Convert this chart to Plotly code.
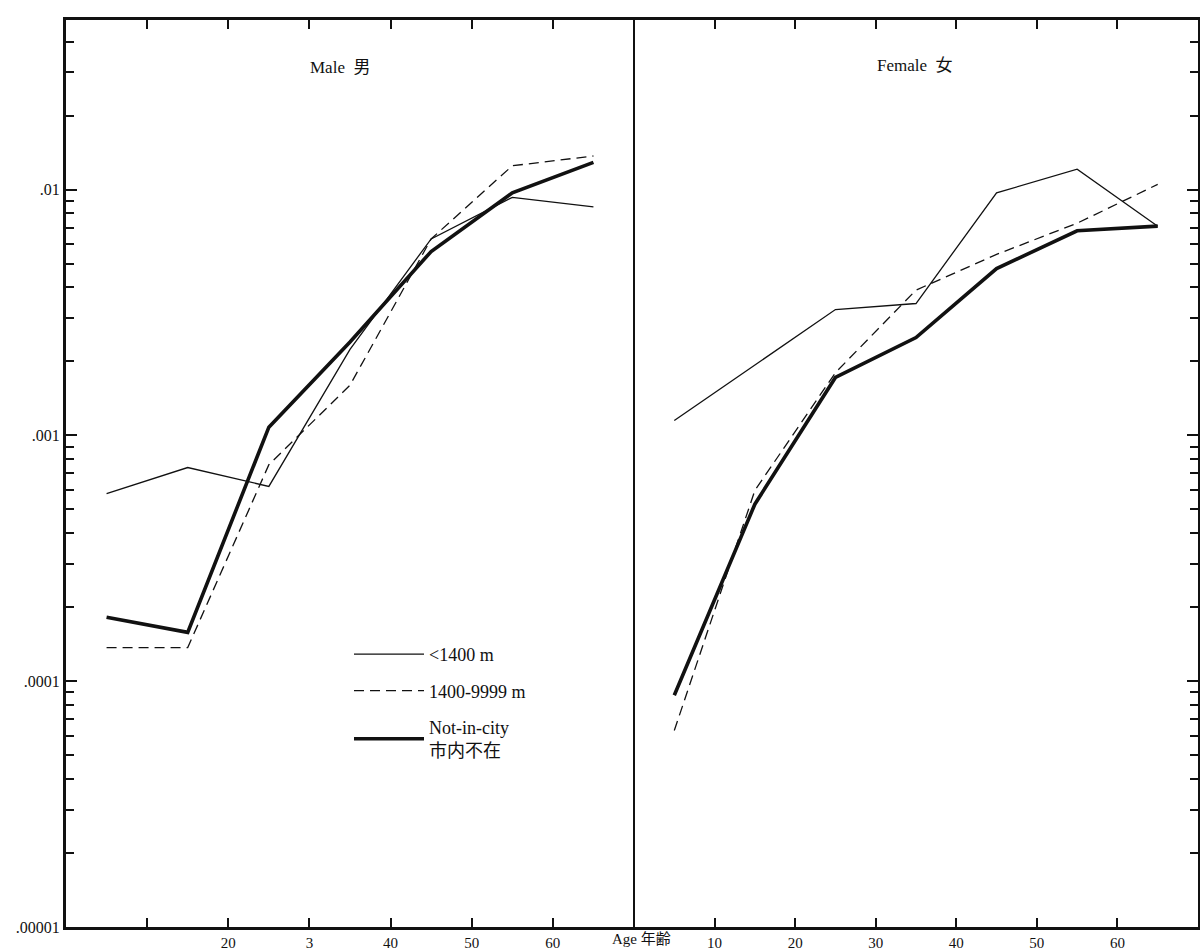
import plotly.graph_objects as go

# ---- data ----
ages = [5, 15, 25, 35, 45, 55, 65]

male_lt1400 = [0.00058, 0.00074, 0.00062, 0.00224, 0.0063, 0.0093, 0.0085]
male_1400_9999 = [0.000137, 0.000137, 0.00076, 0.0016, 0.0063, 0.0125, 0.0137]
male_notincity = [0.000182, 0.000158, 0.00108, 0.0024, 0.0056, 0.0097, 0.0129]

female_lt1400 = [0.00115, 0.00194, 0.00325, 0.00344, 0.0097, 0.0121, 0.0071]
female_1400_9999 = [0.000063, 0.000597, 0.0018, 0.0039, 0.00545, 0.0073, 0.0105]
female_notincity = [0.0000877, 0.000525, 0.00172, 0.0025, 0.00477, 0.0068, 0.0071]

series_names = ["<1400 m", "1400-9999 m", "Not-in-city<br>市内不在"]
panel_titles = ["Male  男", "Female  女"]
x_tickvals = [10, 20, 30, 40, 50, 60]
x_ticktext_male = ["", "20", "3", "40", "50", "60"]
x_ticktext_female = ["10", "20", "30", "40", "50", "60"]
y_major = [1e-5, 1e-4, 1e-3, 1e-2]
y_major_text = [".00001", ".0001", ".001", ".01"]
x_label = "Age 年齢"

# ---- styles ----
FONT = "Liberation Serif, Times New Roman, Noto Sans CJK JP, serif"
INK = "#111111"
styles = [
    dict(width=1.3, dash="solid"),
    dict(width=1.3, dash="10px,6px"),
    dict(width=3.6, dash="solid"),
]

fig = go.Figure()

male = [male_lt1400, male_1400_9999, male_notincity]
female = [female_lt1400, female_1400_9999, female_notincity]

for i, (name, vals) in enumerate(zip(series_names, male)):
    fig.add_trace(go.Scatter(
        x=ages, y=vals, mode="lines", name=name,
        line=dict(color=INK, **styles[i]),
        xaxis="x", yaxis="y", showlegend=True, legendgroup=f"g{i}",
    ))
for i, (name, vals) in enumerate(zip(series_names, female)):
    fig.add_trace(go.Scatter(
        x=ages, y=vals, mode="lines", name=name,
        line=dict(color=INK, **styles[i]),
        xaxis="x2", yaxis="y2", showlegend=False, legendgroup=f"g{i}",
    ))

minor_vals = [m * 10 ** e for e in range(-5, -1) for m in range(2, 10)]

x_left = 66 / 1200
x_mid = 634 / 1200
x_right = 1198 / 1200
y_bot = 1 - 927 / 951
y_top = 1 - 20 / 951

common_x = dict(
    range=[0, 70], showline=True, linewidth=3, linecolor=INK,
    mirror="ticks", ticks="inside", ticklen=9, tickwidth=1.5, tickcolor=INK,
    tickvals=x_tickvals, showgrid=False, zeroline=False, automargin=False,
    tickfont=dict(family=FONT, size=15, color=INK),
)
common_y = dict(
    type="log", range=[-5, -1.31], domain=[y_bot, y_top],
    showline=True, linecolor=INK, mirror=False,
    ticks="inside", ticklen=11, tickwidth=1.5, tickcolor=INK,
    tickvals=y_major, showgrid=False, zeroline=False, automargin=False,
    minor=dict(tickvals=minor_vals, ticks="inside", ticklen=8,
               tickwidth=1.5, tickcolor=INK, showgrid=False),
)
fig.update_layout(
    width=1200, height=951,
    margin=dict(l=0, r=0, t=0, b=0),
    paper_bgcolor="white", plot_bgcolor="white",
    font=dict(family=FONT, size=16, color=INK),
    xaxis=dict(domain=[x_left, x_mid], anchor="y",
               ticktext=x_ticktext_male, **common_x),
    xaxis2=dict(domain=[x_mid, x_right], anchor="y2",
                ticktext=x_ticktext_female, **common_x),
    yaxis=dict(anchor="x", side="left", linewidth=3, ticktext=y_major_text,
               tickfont=dict(family=FONT, size=16, color=INK), **common_y),
    yaxis2=dict(anchor="x2", side="right", linewidth=2,
                showticklabels=False, **common_y),
    legend=dict(
        x=349 / 1200, y=1 - 636 / 951, xanchor="left", yanchor="top",
        bgcolor="rgba(0,0,0,0)", itemwidth=70, tracegroupgap=10,
        font=dict(family=FONT, size=18, color=INK),
    ),
    showlegend=True,
)

# divider between the panels
fig.add_shape(type="line", xref="paper", yref="paper",
              x0=x_mid, x1=x_mid, y0=y_bot, y1=y_top,
              line=dict(color=INK, width=2))

fig.add_annotation(text=panel_titles[0], xref="paper", yref="paper",
                   x=340 / 1200, y=1 - 67 / 951, showarrow=False,
                   xanchor="center", yanchor="middle",
                   font=dict(family=FONT, size=17, color=INK))
fig.add_annotation(text=panel_titles[1], xref="paper", yref="paper",
                   x=915 / 1200, y=1 - 65 / 951, showarrow=False,
                   xanchor="center", yanchor="middle",
                   font=dict(family=FONT, size=17, color=INK))
fig.add_annotation(text=x_label, xref="paper", yref="paper",
                   x=641 / 1200, y=1 - 939 / 951, showarrow=False,
                   xanchor="center", yanchor="middle",
                   font=dict(family=FONT, size=15, color=INK))

fig.write_html(
    "out.html",
    config={"displayModeBar": False},
    post_script="document.body.style.margin='0';document.body.style.overflow='hidden';",
)
